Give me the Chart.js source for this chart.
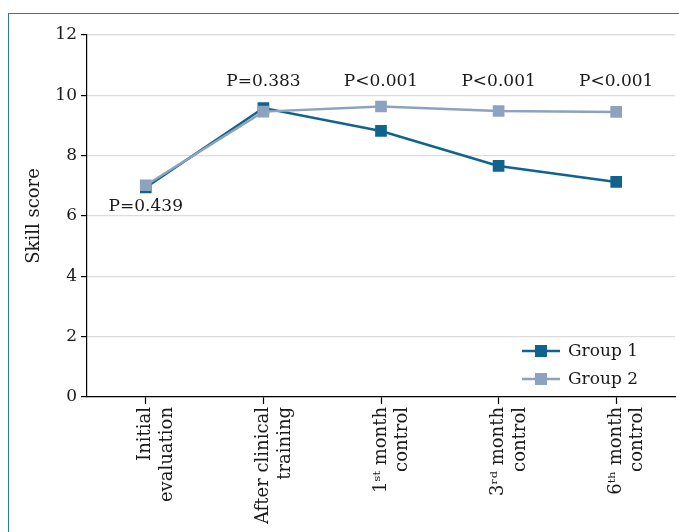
<!DOCTYPE html>
<html>
<head>
<meta charset="utf-8">
<script src="https://cdn.jsdelivr.net/npm/chart.js@4/dist/chart.umd.min.js"></script>
<style>
  html, body { margin: 0; padding: 0; background: #fff; overflow: hidden; }
  #wrap { position: relative; width: 679px; height: 532px; overflow: hidden; }
  #frame { position: absolute; left: 8px; top: 13px; right: 0; bottom: 0;
           border-top: 1.5px solid #2c7aa3; border-left: 1.5px solid #2c7aa3; pointer-events: none; }
  canvas { position: absolute; left: 0; top: 0; }
</style>
</head>
<body>
<div id="wrap">
  <canvas id="c" width="684" height="532"></canvas>
  <div id="frame"></div>
</div>
<script>
const categories = [
  ["Initial", "evaluation"],
  ["After clinical", "training"],
  ["1ˢᵗ month", "control"],
  ["3ʳᵈ month", "control"],
  ["6ᵗʰ month", "control"]
];
const group1 = [6.95, 9.58, 8.82, 7.66, 7.13];
const group2 = [7.02, 9.46, 9.63, 9.48, 9.45];
const pValues = ["P=0.439", "P=0.383", "P<0.001", "P<0.001", "P<0.001"];
const yTicks = [0, 2, 4, 6, 8, 10, 12];

const FONT = "'DejaVu Serif', serif";
const C1 = "#10648c";
const C2 = "#8da2be";

const annotatePlugin = {
  id: 'annot',
  afterDatasetsDraw(chart) {
    const ctx = chart.ctx;
    const x = chart.scales.x, y = chart.scales.y;
    ctx.save();
    ctx.font = "17px " + FONT;
    ctx.fillStyle = "#1a1a1a";
    ctx.textAlign = "center";
    ctx.textBaseline = "middle";
    pValues.forEach((t, i) => {
      const px = x.getPixelForValue(i);
      let py;
      if (i === 0) {
        py = y.getPixelForValue(Math.min(group1[i], group2[i])) + 19;
      } else {
        py = y.getPixelForValue(10.47);
      }
      ctx.fillText(t, px, py);
    });
    // legend
    const ds = chart.data.datasets;
    const lx = 522, ly0 = 351, gap = 28;
    ds.forEach((d, k) => {
      const yy = ly0 + k * gap;
      ctx.strokeStyle = d.borderColor;
      ctx.lineWidth = 2.5;
      ctx.beginPath();
      ctx.moveTo(lx, yy);
      ctx.lineTo(lx + 38, yy);
      ctx.stroke();
      ctx.fillStyle = d.backgroundColor;
      ctx.fillRect(lx + 19 - 6, yy - 6, 12, 12);
      ctx.fillStyle = "#1a1a1a";
      ctx.textAlign = "left";
      ctx.font = "17px " + FONT;
      ctx.fillText(d.label, lx + 46, yy + 1);
    });
    ctx.restore();
  }
};

new Chart(document.getElementById('c'), {
  type: 'line',
  data: {
    labels: categories,
    datasets: [
      { label: "Group 1", data: group1, borderColor: C1, backgroundColor: C1,
        borderWidth: 2.5, pointStyle: 'rect', pointRadius: 6.5, pointHoverRadius: 6.5,
        tension: 0, order: 1 },
      { label: "Group 2", data: group2, borderColor: C2, backgroundColor: C2,
        borderWidth: 2.5, pointStyle: 'rect', pointRadius: 6.5, pointHoverRadius: 6.5,
        tension: 0, order: 0 }
    ]
  },
  options: {
    responsive: false,
    animation: false,
    devicePixelRatio: 1,
    layout: { padding: { top: 35, right: 0, left: 24, bottom: 0 } },
    plugins: { legend: { display: false }, tooltip: { enabled: false } },
    scales: {
      x: {
        type: 'category',
        offset: true,
        grid: { display: true, drawOnChartArea: false, drawTicks: true, tickLength: 7,
                tickColor: "#000", offset: false, tickWidth: 1.2 },
        border: { color: "#000", width: 1.2 },
        ticks: { color: "#1a1a1a", font: { family: FONT, size: 18 }, maxRotation: 90,
                 minRotation: 90, padding: 3, autoSkip: false },
        afterFit(s) { s.height = 532 - 397; }
      },
      y: {
        min: 0, max: 12,
        afterBuildTicks(s) { s.ticks = yTicks.map(v => ({ value: v })); },
        grid: { color: "#dcdcdc", lineWidth: 1.2, drawTicks: true, tickLength: 6,
                tickColor: "#000" },
        border: { color: "#000", width: 1.2 },
        ticks: { color: "#1a1a1a", font: { family: FONT, size: 17 }, padding: 4 },
        title: { display: true, text: "Skill score", color: "#1a1a1a",
                 font: { family: FONT, size: 18 }, padding: { top: 0, bottom: 8 } },
        afterFit(s) { s.width = 87 - 24; }
      }
    }
  },
  plugins: [annotatePlugin]
});
</script>
</body>
</html>
